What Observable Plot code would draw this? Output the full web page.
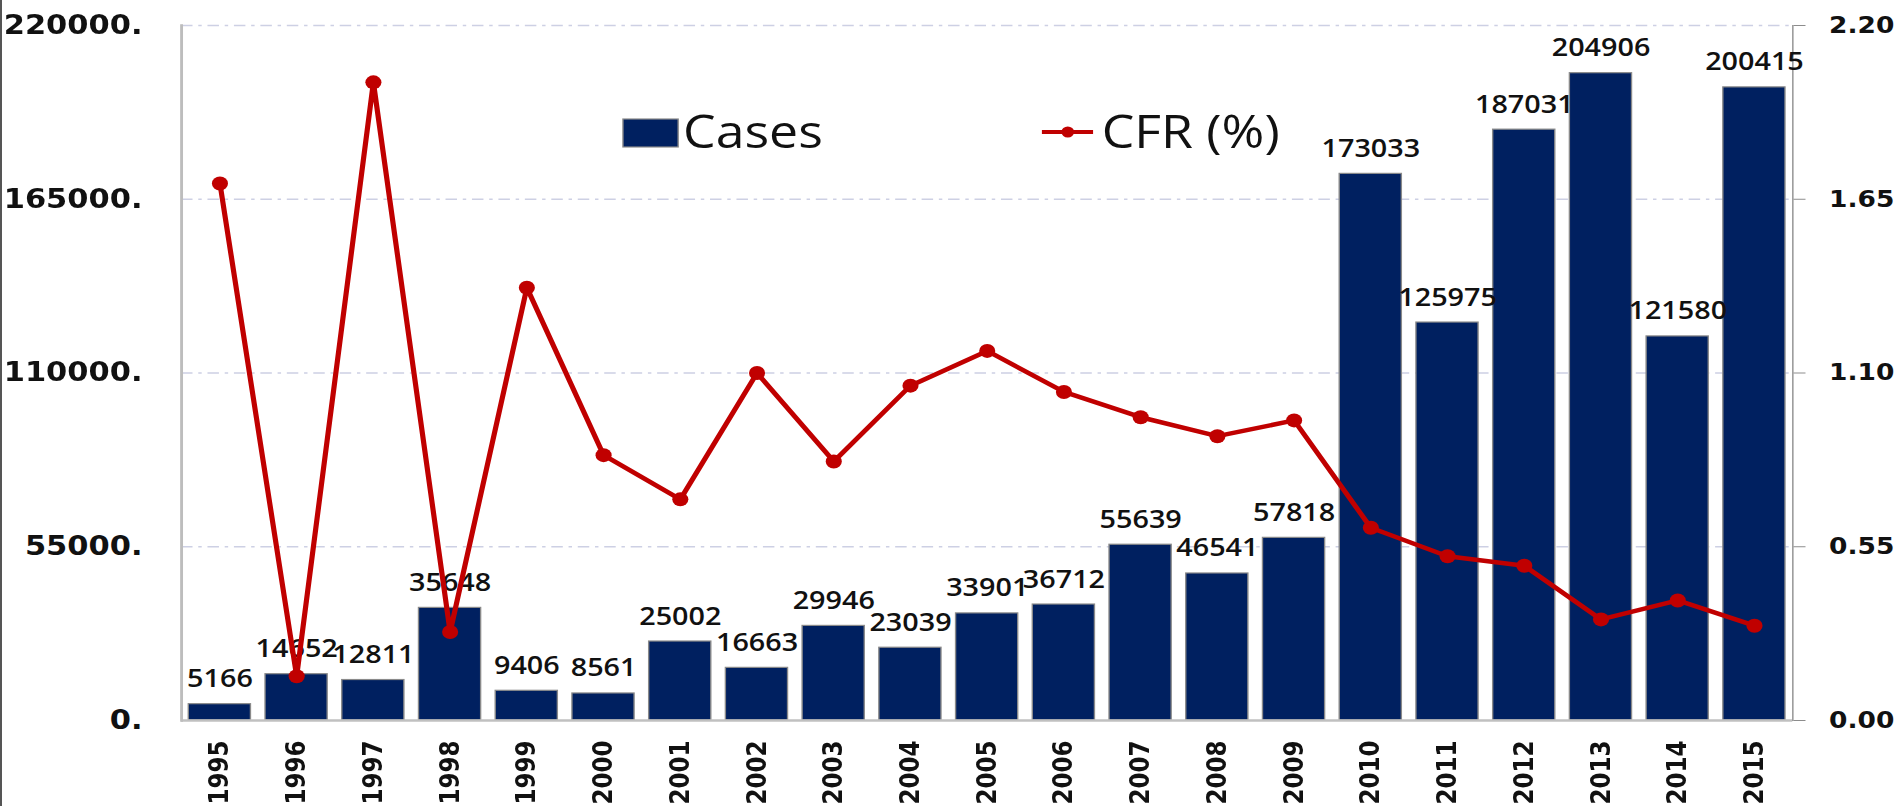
<!DOCTYPE html>
<html><head><meta charset="utf-8">
<script src="https://cdn.jsdelivr.net/npm/d3@7"></script>
<script src="https://cdn.jsdelivr.net/npm/@observablehq/plot@0.6"></script>
<style>
html,body{margin:0;padding:0;background:#fff;overflow:hidden}
#wrap{position:absolute;left:0;top:0;width:1655px;height:806px;transform:scaleX(1.15);transform-origin:0 0}
#border{position:absolute;left:0;top:0;width:2px;height:806px;background:#555}
#legend{position:absolute;left:0;top:0;pointer-events:none}
</style></head><body>
<div id="wrap"></div>
<div id="border"></div>
<script>
const years = [1995,1996,1997,1998,1999,2000,2001,2002,2003,2004,2005,2006,2007,2008,2009,2010,2011,2012,2013,2014,2015];
const cases = [5166,14652,12811,35648,9406,8561,25002,16663,29946,23039,33901,36712,55639,46541,57818,173033,125975,187031,204906,121580,200415];
const cfr = [1.70,0.14,2.02,0.28,1.37,0.84,0.70,1.10,0.82,1.06,1.17,1.04,0.96,0.90,0.95,0.61,0.52,0.49,0.32,0.38,0.30];
const leftTicks = [0,55000,110000,165000,220000];
const rightTicks = [0,0.55,1.10,1.65,2.20];
const legendItems = ["Cases","CFR (%)"];
const cfrFactor = 220000 / 2.20;

const data = years.map((y,i)=>({year:String(y), cases:cases[i], cfr:cfr[i]}));
const NAVY = "#002060", RED = "#c00000";
const W = 1655, H = 806;
const axisFont = "DejaVu Sans, Verdana, sans-serif";
const labelFont = "Open Sans, Noto Sans, sans-serif";

const chart = Plot.plot({
  width: W, height: H,
  marginLeft: 157.4, marginRight: 96.5, marginTop: 25, marginBottom: 86,
  x: {type:"band", domain: years.map(String), paddingInner: 0.19, paddingOuter: 0.095, round: false, label: null},
  y: {domain:[0,220000], label: null},
  style: {background:"#fff", overflow:"visible", color:"#111"},
  marks: [
    Plot.gridY(leftTicks.filter(d=>d>0), {stroke:"#cdd0e4", strokeOpacity:1, strokeWidth:1.5, strokeDasharray:"10,5,3,5"}),
    Plot.barY(data, {x:"year", y:"cases", fill:NAVY, stroke:"#8a8a8a", strokeWidth:1.2}),
    Plot.ruleY([0], {stroke:"#c0c0c0", strokeWidth:2.5}),
    Plot.frame({anchor:"left", stroke:"#bdbdbd", strokeWidth:2.5}),
    Plot.frame({anchor:"right", stroke:"#8c8c8c", strokeWidth:1.2}),
    Plot.axisY(leftTicks, {anchor:"left", tickSize:0, tickPadding:34, tickFormat:d=>d+".", fontSize:26.5, fontWeight:"bold", fontFamily:axisFont, label:null}),
    Plot.axisY(rightTicks.map(v=>v*cfrFactor), {anchor:"right", tickSize:10.5, tickPadding:21, stroke:"#8c8c8c", tickFormat:d=>(d/cfrFactor).toFixed(2), fontSize:23, fontWeight:"bold", fontFamily:axisFont, label:null}),
    Plot.axisX({tickRotate:-90, tickSize:0, tickPadding:20, fontSize:23, fontWeight:"bold", fontFamily:axisFont, label:null}),
    Plot.text(data, {x:"year", y:"cases", text:d=>String(d.cases), dy:-17, lineAnchor:"bottom", fontSize:25, fontWeight:600, fontFamily:labelFont, fill:"#111"}),
    Plot.lineY(data, {x:"year", y:d=>d.cfr*cfrFactor, stroke:RED, strokeWidth:4.5}),
    Plot.dot(data, {x:"year", y:d=>d.cfr*cfrFactor, r:7, fill:RED, stroke:"none"})
  ]
});
const wrap = document.getElementById("wrap");
wrap.appendChild(chart);
// make sure the rotated year labels keep their size
d3.select(chart).selectAll('g[aria-label="x-axis tick label"]').attr("font-size", 23).attr("font-weight","bold");

// legend (inside plot area, like the reference)
const lg = d3.select(wrap).append("svg").attr("id","legend").attr("width",W).attr("height",H)
  .style("font-family", labelFont);
lg.append("rect").attr("x",541.7).attr("y",119).attr("width",48).attr("height",28)
  .attr("fill",NAVY).attr("stroke","#8a8a8a").attr("stroke-width",1.2);
lg.append("text").attr("x",594).attr("y",148).attr("font-size",45).attr("fill","#111").text(legendItems[0]);
lg.append("line").attr("x1",906).attr("x2",950.5).attr("y1",132).attr("y2",132).attr("stroke",RED).attr("stroke-width",4);
lg.append("circle").attr("cx",928.5).attr("cy",132).attr("r",5.5).attr("fill",RED);
lg.append("text").attr("x",958).attr("y",148).attr("font-size",45).attr("fill","#111").text(legendItems[1]);
</script>
</body></html>
